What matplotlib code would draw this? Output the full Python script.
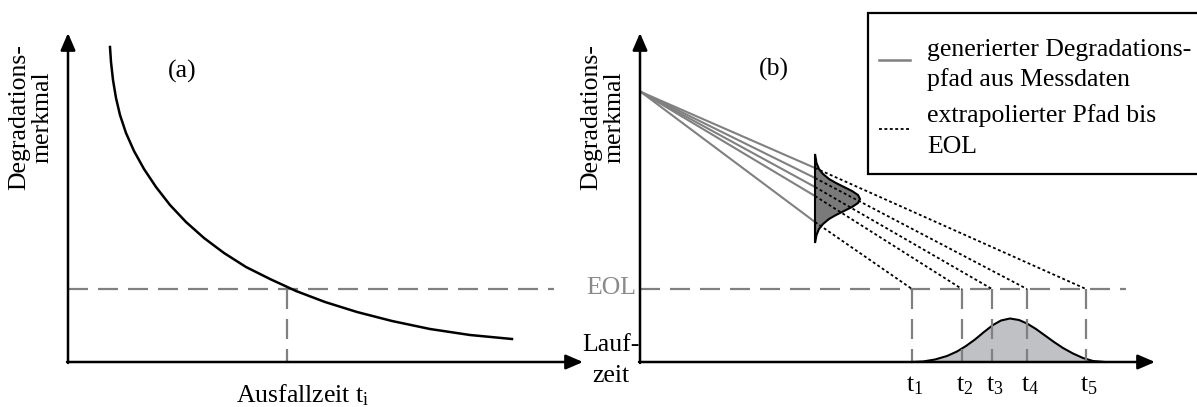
import matplotlib.pyplot as plt
from matplotlib.patches import Rectangle, Polygon

plt.rcParams['font.family'] = ['Liberation Serif', 'DejaVu Serif']
plt.rcParams['mathtext.fontset'] = 'custom'
plt.rcParams['mathtext.rm'] = 'Liberation Serif'
plt.rcParams['mathtext.it'] = 'Liberation Serif:italic'

# --- schematic data (picture units, y grows downwards) ---
origin_a = (68, 362)
origin_b = (640, 362)
axis_len_x = 515
axis_len_y = 329
eol_y = 289
eol_len = 486

# (a) degradation curve
curve_x = [110, 111, 113, 116, 120, 126, 134, 144, 156, 170, 186, 204, 224, 246, 270, 296, 325, 357, 392, 430, 470, 512]
curve_y = [47, 62, 80, 98, 115, 133, 151, 169, 187, 205, 222, 238, 253, 267, 279, 291, 302, 312, 321, 329, 335, 339]
fail_x = 287

# (b) measured paths, distribution of the feature, failure times
path_start = (641, 92)
dist_x0 = 815
path_end_y = [168, 178, 187, 196, 222]       # top ... bottom
t_x = [1086, 1027, 992, 962, 912]            # matching order (top path -> t5)
t_labels = ['t$_1$', 't$_2$', 't$_3$', 't$_4$', 't$_5$']

pdf_y = [154, 163, 169, 174, 179, 183, 187, 191, 195, 199, 203, 207, 211, 215, 219, 224, 229, 235, 243]
pdf_x = [815, 816.5, 819, 823, 829, 836, 844, 852, 858, 860, 858, 852, 844, 836, 829, 823, 819, 816.5, 815]

bell_x = [912, 923, 935, 947, 957, 966, 975, 984, 993, 1001, 1010, 1019, 1027, 1036, 1045, 1054, 1063, 1073, 1083, 1093, 1105]
bell_y = [362, 361.5, 359.5, 356, 351.5, 346, 339.5, 332, 325, 320.5, 318.5, 320, 323.5, 329, 335.5, 342, 348, 353.5, 358, 361, 362]

grey = '#808080'
fs = 18.5

fig = plt.figure(figsize=(11.97, 4.07), dpi=100)
ax = fig.add_axes([0, 0, 1, 1])
ax.set_xlim(0, 1197)
ax.set_ylim(407, 0)
ax.axis('off')

arrow = dict(arrowstyle='-|>,head_length=0.65,head_width=0.28', lw=1.8, color='black',
             shrinkA=0, shrinkB=0, mutation_scale=16)
dash = (0, (9, 4.5))


def draw_axes(o):
    ax.annotate('', xy=(o[0], o[1] - axis_len_y), xytext=(o[0], o[1] + 1), arrowprops=arrow, zorder=6)
    ax.annotate('', xy=(o[0] + axis_len_x, o[1]), xytext=(o[0] - 1, o[1]), arrowprops=arrow, zorder=6)
    ax.plot([o[0], o[0] + eol_len], [eol_y, eol_y], color=grey, lw=1.6, ls=dash, zorder=2)
    ax.text(o[0] - 37, 117, 'Degradations-\nmerkmal', rotation=90, ha='center', va='center',
            fontsize=fs, linespacing=1.1)


# ---- panel (a) ----
draw_axes(origin_a)
ax.plot(curve_x, curve_y, color='black', lw=1.8, zorder=3)
ax.plot([fail_x, fail_x], [eol_y, origin_a[1]], color=grey, lw=1.6, ls=dash, zorder=2)
ax.text(182, 71, '(a)', fontsize=fs, ha='center', va='center')
ax.text(303, 395, 'Ausfallzeit t$_\\mathrm{i}$', fontsize=fs, ha='center', va='center')

# ---- panel (b) ----
draw_axes(origin_b)
ax.text(774, 69, '(b)', fontsize=fs, ha='center', va='center')
ax.text(636, 288, 'EOL', fontsize=fs, ha='right', va='center', color='#8a8a8a')
ax.text(611, 345, 'Lauf-', fontsize=fs, ha='center', va='center')
ax.text(611, 376, 'zeit', fontsize=fs, ha='center', va='center')

for ye in path_end_y:
    ax.plot([path_start[0], dist_x0], [path_start[1], ye], color=grey, lw=1.5, zorder=3)

ax.add_patch(Polygon(list(zip(pdf_x, pdf_y)), closed=True, facecolor='#7a7a7a',
                     edgecolor='black', lw=1.5, zorder=4))

for ye, tx in zip(path_end_y, t_x):
    ax.plot([dist_x0, tx], [ye, eol_y], color='black', lw=1.3, ls=(0, (1.6, 1.4)), zorder=5)

ax.fill_between(bell_x, bell_y, origin_b[1], color='#c0c1c5', lw=0, zorder=2)
ax.plot(bell_x, bell_y, color='black', lw=1.5, zorder=3)

for i, tx in enumerate(sorted(t_x)):
    ax.plot([tx, tx], [eol_y, origin_b[1]], color=grey, lw=1.6, ls=dash, zorder=4)
    ax.text(tx + 3, 386, t_labels[i], fontsize=fs, ha='center', va='center')

# ---- legend box ----
ax.add_patch(Rectangle((868, 13), 340, 161, facecolor='white', edgecolor='black', lw=1.6, zorder=7))
ax.plot([879, 910], [60, 60], color=grey, lw=1.8, zorder=8)
ax.plot([879, 910], [129, 129], color='black', lw=1.3, ls=(0, (1.6, 1.4)), zorder=8)
legend_lines = ['generierter Degradations-', 'pfad aus Messdaten', 'extrapolierter Pfad bis', 'EOL']
legend_y = [50, 80, 116, 147]
for s, yy in zip(legend_lines, legend_y):
    ax.text(927, yy, s, fontsize=fs, ha='left', va='center', zorder=8)

fig.savefig('out.png', dpi=100)
